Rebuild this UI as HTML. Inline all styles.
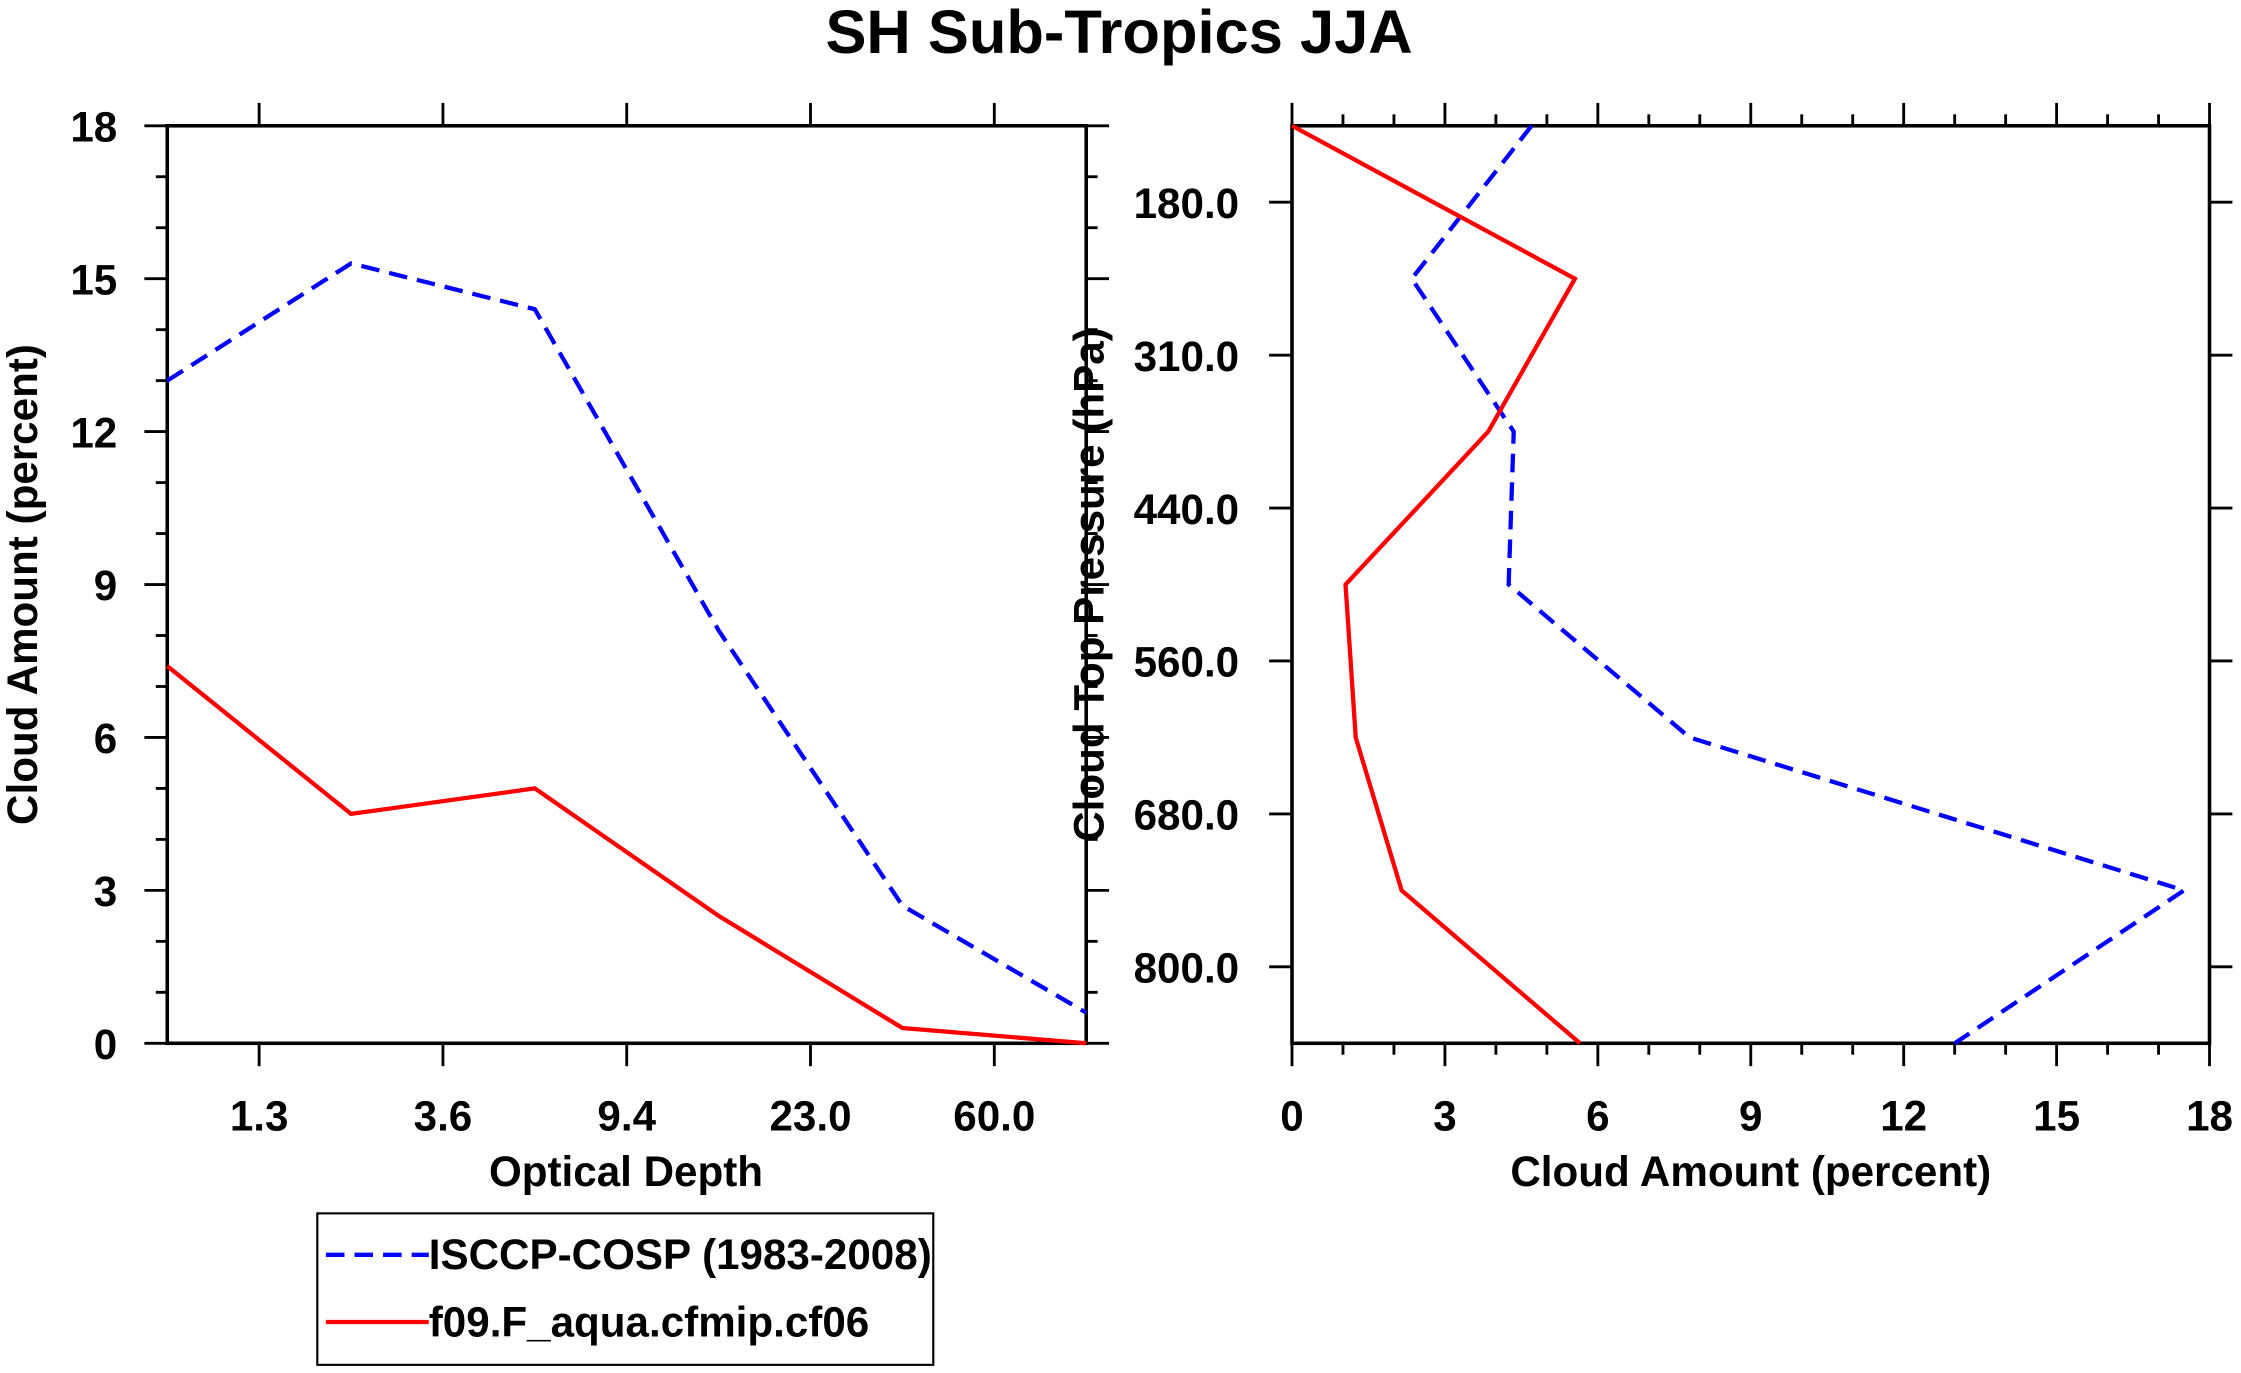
<!DOCTYPE html>
<html><head><meta charset="utf-8"><style>
html,body{margin:0;padding:0;background:#fff}
svg{display:block}
text{font-family:"Liberation Sans",sans-serif;font-weight:bold;fill:#000}
</style></head><body>
<svg id="c" width="2241" height="1373" viewBox="0 0 1568 960.7" xmlns="http://www.w3.org/2000/svg">
<text x="783" y="37" font-size="43" text-anchor="middle">SH Sub-Tropics JJA</text>
<g id="L"></g>
<g id="R"></g>
<g>
<rect x="222" y="849" width="431" height="106" fill="none" stroke="#000" stroke-width="1.5"/>
<g>
<line x1="228" y1="878" x2="300" y2="878" stroke="#0000ff" stroke-width="3" stroke-dasharray="13,7"/>
<text x="300" y="888" font-size="29.5">ISCCP-COSP (1983-2008)</text></g>
<g>
<line x1="228" y1="925" x2="300" y2="925" stroke="#ff0000" stroke-width="3"/>
<text x="300" y="935" font-size="29.5">f09.F_aqua.cfmip.cf06</text></g>
</g>
</svg>
<script>
// Left panel data (optical depth bins, boundaries 0..5)
const tauLabels=["1.3","3.6","9.4","23.0","60.0"];
const leftBlue=[13.0,15.3,14.4,8.1,2.7,0.6];
const leftRed=[7.4,4.5,5.0,2.5,0.3,0.0];
const amountTicks=[0,3,6,9,12,15,18];
// Right panel data (pressure levels, boundaries 0..6 top to bottom)
const presLabels=["180.0","310.0","440.0","560.0","680.0","800.0"];
const rightBlue=[4.7,2.35,4.35,4.25,7.8,17.5,13.0];
const rightRed=[0.0,5.55,3.85,1.05,1.25,2.15,5.65];

const NS="http://www.w3.org/2000/svg";
function mk(p,t,a){const e=document.createElementNS(NS,t);for(const k in a)e.setAttribute(k,a[k]);p.appendChild(e);return e;}
const T=88,B=730,FS=29.5,AT=29.5;
// LEFT
const L=document.getElementById('L');
const lx0=117,lx1=760;
const lxs=i=>lx0+i*(lx1-lx0)/5, lys=v=>B-v*(B-T)/18;
for(let v=0;v<=18;v++){const y=lys(v);const maj=v%3==0;
 let t=mk(L,'line',{x1:lx0-(maj?16:8),y1:y,x2:lx0,y2:y,stroke:'#000','stroke-width':2});
 
 t=mk(L,'line',{x1:lx1,y1:y,x2:lx1+(maj?16:8),y2:y,stroke:'#000','stroke-width':2});
 
}
amountTicks.forEach(v=>{const t=mk(L,'text',{x:lx0-35,y:lys(v)+11,'font-size':FS,'text-anchor':'end'});t.textContent=v;
 });
tauLabels.forEach((s,i)=>{const x=lxs(i+0.5);
 let t=mk(L,'line',{x1:x,y1:B,x2:x,y2:B+16,stroke:'#000','stroke-width':2});
 
 t=mk(L,'line',{x1:x,y1:T-16,x2:x,y2:T,stroke:'#000','stroke-width':2});
 
 t=mk(L,'text',{x:x,y:791,'font-size':FS,'text-anchor':'middle'});t.textContent=s;
 });
let f=mk(L,'rect',{x:lx0,y:T,width:lx1-lx0,height:B-T,fill:'none',stroke:'#000','stroke-width':2.5});

let s=mk(L,'polyline',{points:leftBlue.map((v,i)=>lxs(i)+','+lys(v)).join(' '),fill:'none',stroke:'#0000ff','stroke-width':3,'stroke-dasharray':'13,7'});

s=mk(L,'polyline',{points:leftRed.map((v,i)=>lxs(i)+','+lys(v)).join(' '),fill:'none',stroke:'#ff0000','stroke-width':3});

let a=mk(L,'text',{x:438,y:830,'font-size':AT,'text-anchor':'middle'});a.textContent='Optical Depth';

a=mk(L,'text',{x:0,y:0,'font-size':AT,'text-anchor':'middle',transform:'translate(26,409) rotate(-90)'});a.textContent='Cloud Amount (percent)';

// RIGHT
const R=document.getElementById('R');
const rx0=904,rx1=1546;
const rxs=v=>rx0+v*(rx1-rx0)/18, rys=i=>T+i*(B-T)/6;
for(let v=0;v<=18;v++){const x=rxs(v);const maj=v%3==0;
 let t=mk(R,'line',{x1:x,y1:B,x2:x,y2:B+(maj?16:8),stroke:'#000','stroke-width':2});
 
 t=mk(R,'line',{x1:x,y1:T-(maj?16:8),x2:x,y2:T,stroke:'#000','stroke-width':2});
 }
amountTicks.forEach(v=>{const t=mk(R,'text',{x:rxs(v),y:791,'font-size':FS,'text-anchor':'middle'});t.textContent=v;
 });
presLabels.forEach((sv,i)=>{const y=rys(i+0.5);
 let t=mk(R,'line',{x1:rx1,y1:y,x2:rx1+16,y2:y,stroke:'#000','stroke-width':2});
 
 t=mk(R,'line',{x1:rx0-16,y1:y,x2:rx0,y2:y,stroke:'#000','stroke-width':2});
 
 t=mk(R,'text',{x:867,y:y+11,'font-size':FS,'text-anchor':'end'});t.textContent=sv;
 });
f=mk(R,'rect',{x:rx0,y:T,width:rx1-rx0,height:B-T,fill:'none',stroke:'#000','stroke-width':2.5});

s=mk(R,'polyline',{points:rightBlue.map((v,i)=>rxs(v)+','+rys(i)).join(' '),fill:'none',stroke:'#0000ff','stroke-width':3,'stroke-dasharray':'13,7'});

s=mk(R,'polyline',{points:rightRed.map((v,i)=>rxs(v)+','+rys(i)).join(' '),fill:'none',stroke:'#ff0000','stroke-width':3});

a=mk(R,'text',{x:1225,y:830,'font-size':AT,'text-anchor':'middle'});a.textContent='Cloud Amount (percent)';

a=mk(R,'text',{x:0,y:0,'font-size':AT,'text-anchor':'middle',transform:'translate(772,409) rotate(-90)'});a.textContent='Cloud Top Pressure (hPa)';

</script>
</body></html>
